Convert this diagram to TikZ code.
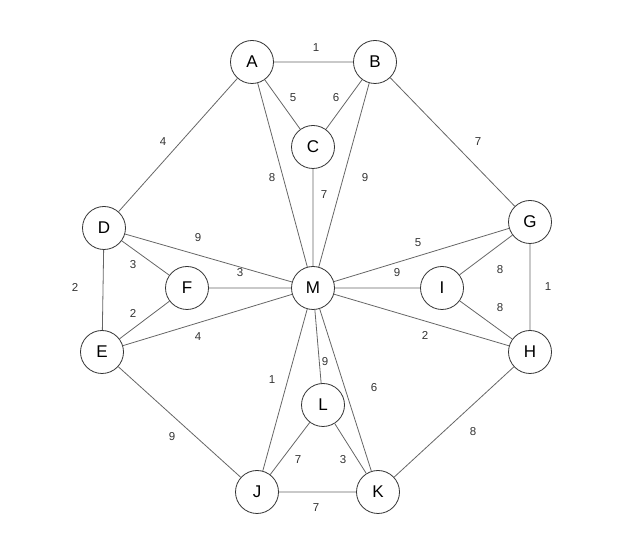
\documentclass[tikz,border=0pt]{standalone}
\usepackage{fontspec}
\setmainfont{Liberation Sans}
\begin{document}
\begin{tikzpicture}[x=1pt,y=-1pt,
  vert/.style={circle,draw=black!80,line width=0.8pt,fill=white,minimum size=43pt,inner sep=0pt,font=\fontsize{17}{17}\selectfont},
  edge/.style={draw=black!60,line width=0.8pt},
  wt/.style={font=\fontsize{11.5}{12}\selectfont,text=black!80,inner sep=1pt}]
\useasboundingbox (0,0) rectangle (630,534);
\node[vert] (A) at (252,62) {A};
\node[vert] (B) at (375,62) {B};
\node[vert] (C) at (313,147) {C};
\node[vert] (D) at (104,228) {D};
\node[vert] (F) at (187,288) {F};
\node[vert] (M) at (313,288) {M};
\node[vert] (I) at (442,288) {I};
\node[vert] (G) at (530,222) {G};
\node[vert] (H) at (530,352) {H};
\node[vert] (E) at (102,352) {E};
\node[vert] (L) at (323,405) {L};
\node[vert] (J) at (257,492) {J};
\node[vert] (K) at (378,492) {K};
\begin{scope}[on background layer/.style={}]
\end{scope}
\path[edge] (A)--(B) (A)--(C) (B)--(C) (A)--(D) (B)--(G) (A)--(M) (C)--(M) (B)--(M)
 (D)--(M) (D)--(F) (F)--(M) (D)--(E) (E)--(F) (E)--(M) (G)--(M) (I)--(M) (G)--(I)
 (H)--(I) (G)--(H) (H)--(M) (M)--(L) (M)--(J) (M)--(K) (E)--(J) (H)--(K) (L)--(J)
 (L)--(K) (J)--(K);
\node[wt] (w1) at (316,48) {1};
\node[wt] (w2) at (293,98) {5};
\node[wt] (w3) at (336,98) {6};
\node[wt] (w4) at (163,142) {4};
\node[wt] (w5) at (478,142) {7};
\node[wt] (w6) at (272,178) {8};
\node[wt] (w7) at (324,195) {7};
\node[wt] (w8) at (365,178) {9};
\node[wt] (w9) at (198,238) {9};
\node[wt] (w10) at (133,265) {3};
\node[wt] (w11) at (240,273) {3};
\node[wt] (w12) at (75,287) {2};
\node[wt] (w13) at (133,313) {2};
\node[wt] (w14) at (198,337) {4};
\node[wt] (w15) at (418,243) {5};
\node[wt] (w16) at (397,273) {9};
\node[wt] (w17) at (500,270) {8};
\node[wt] (w18) at (500,308) {8};
\node[wt] (w19) at (548,287) {1};
\node[wt] (w20) at (425,335) {2};
\node[wt] (w21) at (325,362) {9};
\node[wt] (w22) at (272,380) {1};
\node[wt] (w23) at (374,388) {6};
\node[wt] (w24) at (172,437) {9};
\node[wt] (w25) at (473,432) {8};
\node[wt] (w26) at (298,460) {7};
\node[wt] (w27) at (343,460) {3};
\node[wt] (w28) at (316,508) {7};
\end{tikzpicture}
\end{document}
